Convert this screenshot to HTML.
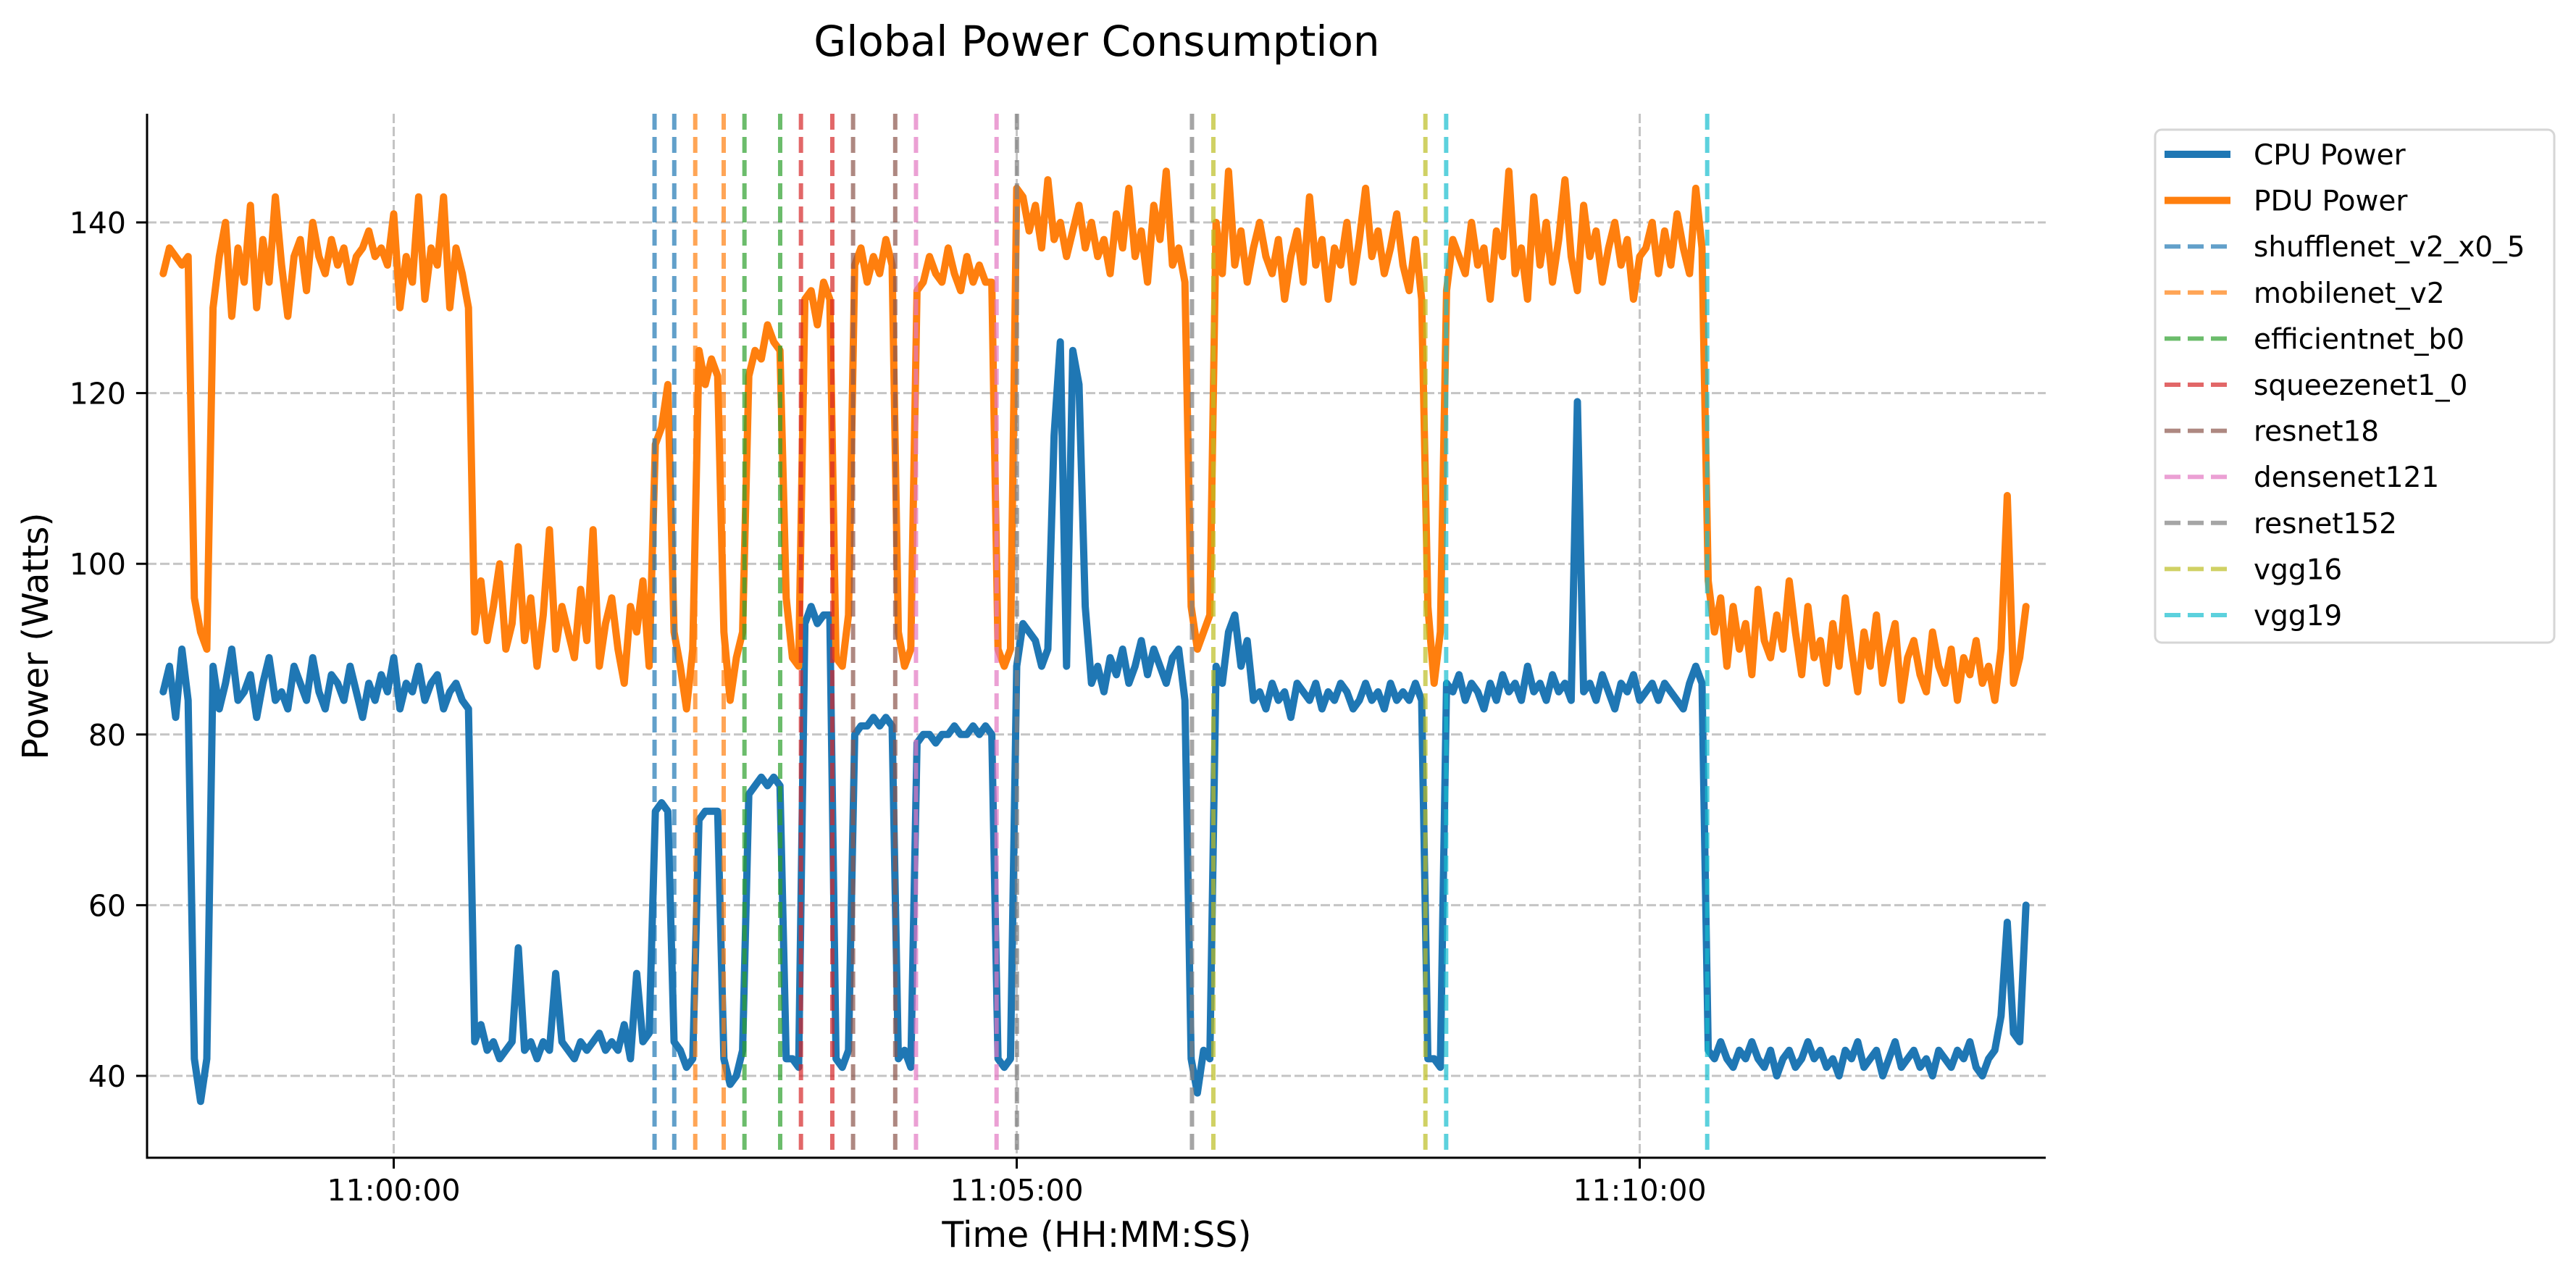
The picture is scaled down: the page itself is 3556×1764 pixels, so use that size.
<!DOCTYPE html>
<html><head><meta charset="utf-8">
<style>
html,body{margin:0;padding:0;background:#fff;}
svg{display:block;font-family:"DejaVu Sans","Liberation Sans",sans-serif;}
</style></head>
<body>
<svg id="chart" width="3556" height="1764" viewBox="0 0 3556 1764" xmlns="http://www.w3.org/2000/svg">
<rect width="3556" height="1764" fill="#fff"/>
<text x="1514" y="77" font-size="58" text-anchor="middle" fill="#000">Global Power Consumption</text>
<text x="0" y="0" font-size="49" text-anchor="middle" fill="#000" transform="translate(66,878) rotate(-90)">Power (Watts)</text>
<text x="1514" y="1721" font-size="49" text-anchor="middle" fill="#000">Time (HH:MM:SS)</text>
<g id="grid"></g>
<g id="series"></g>
<g id="vlines"></g>
<g id="axes"></g>
<g id="legend"></g>
</svg>
<script>
// time grid: seconds relative to 11:00:00
const startSec = -111;
const stepSec = 3;
const yTicks = [40, 60, 80, 100, 120, 140];
const xTickSecs = [0, 300, 600];
const xTickLabels = ["11:00:00", "11:05:00", "11:10:00"];
const cpuPower = [85,88,82,90,84, 42,37,42,
88,83,86,90,84,85,87,82,86,89,84,85,83,88,86,84,89,85,83,87,86,84,88,85,82,86,84,87,85,89,83,86,85,88,84,86,87,83,85,86,84,83,
44,46,43,44,42,43,44,55,43,44,42,44,43,52,44,43,42,44,43,44,45,43,44,43,46,42,52,44,45,
71,72,71, 44,43,41,42, 70,71,71,71, 42,39,40,43, 73,74,75,74,75,74, 42,42,41, 93,95,93,94,94, 42,41,43,
80,81,81,82,81,82,81, 42,43,41, 79,80,80,79,80,80,81,80,80,81,80,81,80, 42,41,42,
88,93,92,91,88,90,115,126,88,125,121,95,86,88,85,89,87,90,86,88,91,87,90,88,86,89,90,84,
42,38,43,42,
88,86,92,94,88,91,84,85,83,86,84,85,82,86,85,84,86,83,85,84,86,85,83,84,86,84,85,83,86,84,85,84,86,84,
42,42,41,
86,85,87,84,86,85,83,86,84,87,85,86,84,88,85,86,84,87,85,86,84,119,85,86,84,87,85,83,86,85,87,84,85,86,84,86,85,84,83,86,88,86,
43,42,44,42,41,43,42,44,42,41,43,40,42,43,41,42,44,42,43,41,42,40,43,42,44,41,42,43,40,42,44,41,42,43,41,42,40,43,42,41,43,42,44,41,40,42,43,47,58,45,44,60];
const pduPower = [134,137,136,135,136, 96,92,90,
130,136,140,129,137,133,142,130,138,133,143,135,129,136,138,132,140,136,134,138,135,137,133,136,137,139,136,137,135,141,130,136,133,143,131,137,135,143,130,137,134,130,
92,98,91,95,100,90,93,102,91,96,88,94,104,90,95,92,89,97,91,104,88,93,96,90,86,95,92,98,88,
114,116,121, 92,88,83,90, 125,121,124,122, 92,84,89,92, 122,125,124,128,126,125, 96,89,88, 131,132,128,133,131, 89,88,94,
135,137,133,136,134,138,135, 92,88,90, 132,133,136,134,133,137,134,132,136,133,135,133,133, 90,88,90,
144,143,139,142,137,145,138,140,136,139,142,137,140,136,138,134,141,137,144,136,139,133,142,138,146,135,137,133,
95,90,92,94,
140,134,146,135,139,133,137,140,136,134,138,131,136,139,133,143,135,138,131,137,135,140,133,138,144,136,139,134,137,141,135,132,138,131,
95,86,92,
132,138,136,134,140,135,137,131,139,136,146,134,137,131,143,135,140,133,138,145,136,132,142,136,139,133,137,140,135,138,131,136,137,140,134,139,135,141,137,134,144,137,
98,92,96,88,95,90,93,87,97,91,89,94,90,98,92,87,95,89,91,86,93,88,96,90,85,92,88,94,86,90,93,84,89,91,87,85,92,88,86,90,84,89,87,91,86,88,84,90,108,86,89,95];
const modelNames = ["shufflenet_v2_x0_5","mobilenet_v2","efficientnet_b0","squeezenet1_0","resnet18","densenet121","resnet152","vgg16","vgg19"];
const modelStarts = [125.6,145.2,168.9,196.1,221.2,251.5,300.1,394.7,506.8];
const modelEnds = [135.1,158.9,186.1,211.2,241.5,290.3,384.4,496.8,632.5];
const modelColors = ["#1f77b4","#ff7f0e","#2ca02c","#d62728","#8c564b","#e377c2","#7f7f7f","#bcbd22","#17becf"];

const NS = "http://www.w3.org/2000/svg";
const L = 203, R = 2824, T = 157, B = 1598;
const xs = s => 543.5 + s * 2.8667;
const ys = v => 1485 - (v - 40) * 11.78;
function mk(tag, attrs, parent) {
  const e = document.createElementNS(NS, tag);
  for (const k in attrs) e.setAttribute(k, attrs[k]);
  parent.appendChild(e);
  return e;
}
const grid = document.getElementById('grid');
const axes = document.getElementById('axes');
yTicks.forEach(v => {
  const g = mk('line', {x1:L, x2:R, y1:ys(v), y2:ys(v), stroke:'#c4c4c4', 'stroke-width':3, 'stroke-dasharray':'13 5'}, grid);
  
  
  const tk = mk('line', {x1:L-15, x2:L, y1:ys(v), y2:ys(v), stroke:'#000', 'stroke-width':3}, axes);
  
  
  const t = mk('text', {x:L-29, y:ys(v)+15, 'font-size':41, 'text-anchor':'end', fill:'#000'}, axes);
  t.textContent = v;
  
  
});
xTickSecs.forEach((s, i) => {
  const g = mk('line', {x1:xs(s), x2:xs(s), y1:T, y2:B, stroke:'#c4c4c4', 'stroke-width':3, 'stroke-dasharray':'13 5'}, grid);
  
  
  const tk = mk('line', {x1:xs(s), x2:xs(s), y1:B, y2:B+15, stroke:'#000', 'stroke-width':3}, axes);
  
  
  const t = mk('text', {x:xs(s), y:B+59, 'font-size':41, 'text-anchor':'middle', fill:'#000'}, axes);
  t.textContent = xTickLabels[i];
  
  
});
const sl = mk('line', {x1:L, x2:L, y1:T, y2:B+1.5, stroke:'#000', 'stroke-width':3}, axes);


const sb = mk('line', {x1:L-1.5, x2:R, y1:B, y2:B, stroke:'#000', 'stroke-width':3}, axes);



const series = document.getElementById('series');
function drawSeries(arr, color, name) {
  const pts = arr.map((v, i) => xs(startSec + i * stepSec).toFixed(1) + ',' + ys(v).toFixed(1)).join(' ');
  const p = mk('polyline', {points:pts, fill:'none', stroke:color, 'stroke-width':10, 'stroke-linejoin':'round', 'stroke-linecap':'round'}, series);
  
  
}
drawSeries(cpuPower, '#1f77b4', 'cpu-power-line');
drawSeries(pduPower, '#ff7f0e', 'pdu-power-line');

const vl = document.getElementById('vlines');
modelNames.forEach((n, i) => {
  [modelStarts[i], modelEnds[i]].forEach(s => {
    const l = mk('line', {x1:xs(s), x2:xs(s), y1:T, y2:B, stroke:modelColors[i], 'stroke-opacity':0.7, 'stroke-width':6, 'stroke-dasharray':'22 10'}, vl);
    
    
  });
});

const lg = document.getElementById('legend');
const box = mk('rect', {x:2975, y:179, width:551, height:708, rx:9, fill:'#fff', 'fill-opacity':0.8, stroke:'#d6d6d6', 'stroke-width':3}, lg);


const legNames = ["CPU Power", "PDU Power"].concat(modelNames);
const legColors = ["#1f77b4", "#ff7f0e"].concat(modelColors);
legNames.forEach((n, i) => {
  const y = 213 + i * 63.6;
  const dashed = i >= 2;
  const h = mk('line', {x1:2988, x2:3079, y1:y, y2:y, stroke:legColors[i], 'stroke-width': dashed ? 6 : 10, 'stroke-opacity': dashed ? 0.7 : 1, 'stroke-dasharray': dashed ? '22 10' : 'none'}, lg);
  
  
  const t = mk('text', {x:3111, y:y+14, 'font-size':39, fill:'#000'}, lg);
  t.textContent = n;
  
  
});
</script>
</body></html>
